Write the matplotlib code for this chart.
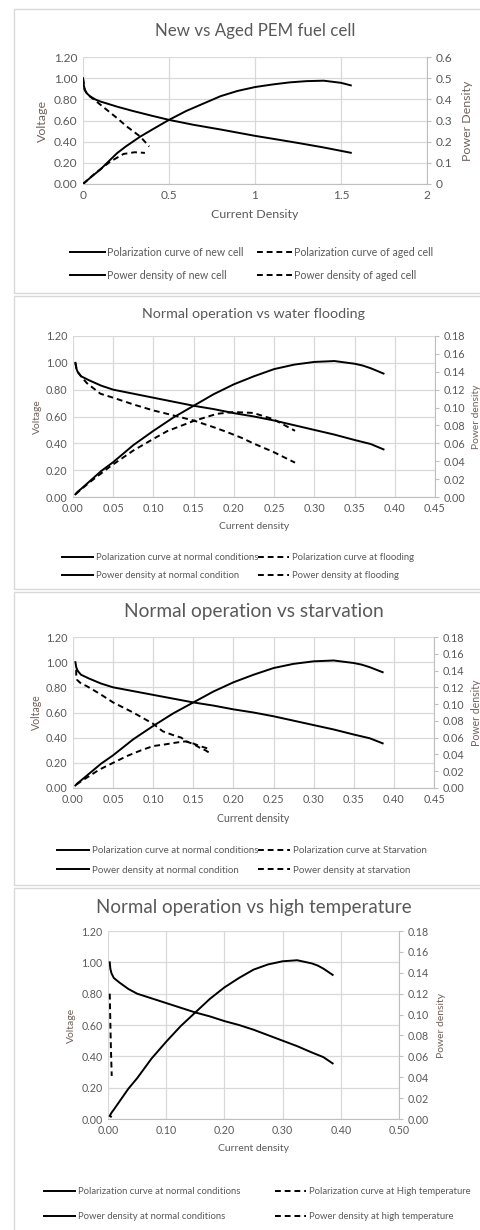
import matplotlib
matplotlib.use('Agg')
import matplotlib.pyplot as plt
from matplotlib.patches import Rectangle

plt.rcParams['font.family'] = ['Lato', 'DejaVu Sans']

# ---- panel 1 : new vs aged cell ----
new_pol_i = [0.0, 0.005, 0.01, 0.02, 0.04, 0.07, 0.10, 0.15, 0.20, 0.29, 0.40, 0.50, 0.64, 0.80, 1.00, 1.15, 1.26, 1.40, 1.557]
new_pol_v = [1.00, 0.93, 0.89, 0.86, 0.83, 0.80, 0.78, 0.755, 0.73, 0.69, 0.645, 0.606, 0.56, 0.515, 0.455, 0.415, 0.385, 0.345, 0.295]
new_pow_i = [0.0, 0.05, 0.10, 0.197, 0.25, 0.333, 0.40, 0.50, 0.60, 0.70, 0.80, 0.90, 1.00, 1.10, 1.20, 1.30, 1.40, 1.50, 1.557]
new_pow_p = [0.0, 0.035, 0.068, 0.145, 0.178, 0.224, 0.256, 0.303, 0.345, 0.38, 0.415, 0.44, 0.458, 0.47, 0.48, 0.486, 0.488, 0.478, 0.466]
aged_pol_i = [0.0, 0.01, 0.03, 0.07, 0.139, 0.20, 0.255, 0.333, 0.385]
aged_pol_v = [1.00, 0.89, 0.84, 0.79, 0.70, 0.62, 0.543, 0.448, 0.354]
aged_pow_i = [0.0, 0.07, 0.159, 0.236, 0.30, 0.36]
aged_pow_p = [0.0, 0.05, 0.106, 0.142, 0.150, 0.147]

# ---- normal operation (panels 2-4) ----
norm_i = [0.003, 0.004, 0.006, 0.010, 0.020, 0.035, 0.050, 0.075, 0.100, 0.125, 0.150, 0.175,
          0.200, 0.225, 0.250, 0.275, 0.300, 0.325, 0.350, 0.360, 0.370, 0.386]
norm_v = [1.00, 0.96, 0.93, 0.90, 0.87, 0.83, 0.80, 0.77, 0.74, 0.71, 0.68, 0.655,
          0.625, 0.60, 0.57, 0.535, 0.50, 0.465, 0.425, 0.41, 0.395, 0.355]
norm_p = [0.003, 0.004, 0.006, 0.009, 0.017, 0.029, 0.039, 0.058, 0.074, 0.089, 0.102, 0.115,
          0.126, 0.135, 0.143, 0.148, 0.151, 0.152, 0.149, 0.147, 0.144, 0.138]

# ---- flooding ----
flood_pol_i = [0.003, 0.005, 0.010, 0.017, 0.034, 0.050, 0.075, 0.100, 0.117, 0.150, 0.175, 0.191, 0.210, 0.224, 0.249, 0.276]
flood_pol_v = [1.00, 0.94, 0.90, 0.85, 0.77, 0.74, 0.69, 0.645, 0.62, 0.57, 0.52, 0.485, 0.44, 0.40, 0.336, 0.256]
flood_pow_i = [0.003, 0.020, 0.046, 0.075, 0.100, 0.117, 0.150, 0.179, 0.200, 0.224, 0.249, 0.276]
flood_pow_p = [0.003, 0.016, 0.034, 0.052, 0.065, 0.0736, 0.085, 0.093, 0.095, 0.094, 0.087, 0.074]

# ---- starvation ----
starv_pol_i = [0.004, 0.004, 0.005, 0.010, 0.017, 0.033, 0.050, 0.075, 0.100, 0.112, 0.125, 0.135, 0.141, 0.150, 0.158, 0.165, 0.170]
starv_pol_v = [0.94, 0.90, 0.86, 0.83, 0.81, 0.75, 0.68, 0.60, 0.51, 0.45, 0.42, 0.40, 0.37, 0.35, 0.32, 0.30, 0.28]
starv_pow_i = [0.004, 0.015, 0.033, 0.050, 0.067, 0.085, 0.100, 0.115, 0.125, 0.135, 0.141, 0.150, 0.158, 0.165, 0.170]
starv_pow_p = [0.004, 0.011, 0.022, 0.030, 0.038, 0.045, 0.050, 0.052, 0.0536, 0.055, 0.0556, 0.053, 0.050, 0.048, 0.046]

# ---- high temperature ----
hot_pol_i = [0.003, 0.004, 0.005, 0.0064]
hot_pol_v = [0.80, 0.62, 0.45, 0.275]
hot_pow_i = [0.003, 0.004, 0.005, 0.0064]
hot_pow_p = [0.0024, 0.0025, 0.0023, 0.0018]

W, H = 481, 1230
fig = plt.figure(figsize=(W / 100, H / 100), dpi=100)
fig.patch.set_facecolor('white')

GRID = '#d9d9d9'
TXT = '#595959'
LAB = '#6f625c'
DASH = (0, (3, 2))

# panel frames
for top, bot in [(9, 293), (296, 589), (592, 885), (888, 1240)]:
    fig.patches.append(Rectangle((14 / W, 1 - bot / H), (495 - 14) / W, (bot - top) / H,
                                 transform=fig.transFigure, fill=False, ec=GRID, lw=1))


def px_axes(x0, y0, x1, y1):
    return fig.add_axes([x0 / W, 1 - y1 / H, (x1 - x0) / W, (y1 - y0) / H])


def panel(box, title, title_y, title_fs, xmax, xstep, xfmt, pmax, pstep, pfmt, tick_fs,
          xlabel, plabel, lab_fs, lines, leg_x, leg_y, leg_fs, leg_gap, vpad, ppad):
    ax = px_axes(*box)
    ax2 = ax.twinx()
    ax.set_zorder(ax2.get_zorder() + 1)
    ax.patch.set_visible(False)
    ax.set_xlim(0, xmax)
    ax.set_ylim(0, 1.2)
    ax2.set_ylim(0, pmax)
    xt = [k * xstep for k in range(int(round(xmax / xstep)) + 1)]
    ax.set_xticks(xt)
    ax.set_xticklabels([xfmt.format(v) for v in xt])
    yt = [k * 0.2 for k in range(7)]
    ax.set_yticks(yt)
    ax.set_yticklabels(['{:.2f}'.format(v) for v in yt])
    pt = [k * pstep for k in range(int(round(pmax / pstep)) + 1)]
    ax2.set_yticks(pt)
    ax2.set_yticklabels([pfmt(v) for v in pt])
    ax.grid(True, color=GRID, lw=0.9)
    ax.set_axisbelow(True)
    for s in ['left', 'top', 'right']:
        ax.spines[s].set_visible(False)
    ax.spines['bottom'].set_color('#bfbfbf')
    for s in ['left', 'top', 'bottom']:
        ax2.spines[s].set_visible(False)
    ax2.spines['right'].set_color('#bfbfbf')
    ax.tick_params(length=0, labelsize=tick_fs, labelcolor=TXT, pad=4)
    ax2.tick_params(axis='y', length=3, color='#bfbfbf', labelsize=tick_fs, labelcolor=TXT, pad=3)
    ax.set_xlabel(xlabel, fontsize=lab_fs, color=TXT, labelpad=6)
    ax.set_ylabel('Voltage', fontsize=lab_fs, color=LAB, labelpad=vpad)
    ax2.set_ylabel(plabel, fontsize=lab_fs, color=LAB, labelpad=ppad)
    fig.text((box[0] + box[2]) / 2 / W, 1 - title_y / H, title, ha='center', va='center',
             fontsize=title_fs, color=TXT)

    (pi, pv, pl), (qi, qv, ql), (fi, fv, fl), (gi, gp, gl) = lines
    h1, = ax.plot(pi, pv, color='black', lw=1.4, zorder=3)
    h3, = ax.plot(fi, fv, color='black', lw=1.4, ls=DASH, zorder=3)
    h2, = ax2.plot(qi, qv, color='black', lw=1.4)
    h4, = ax2.plot(gi, gp, color='black', lw=1.4, ls=DASH)
    # power curves belong to the secondary axis; draw them above the grid
    for h in (h2, h4):
        h.remove()
        ax.add_line(h)
        h.set_transform(ax2.transData)
        h.set_zorder(3)

    kw = dict(loc='upper left', frameon=False, fontsize=leg_fs, borderpad=0, borderaxespad=0,
              handlelength=3.3, handletextpad=0.25, labelspacing=leg_gap,
              labelcolor=TXT, bbox_transform=fig.transFigure)
    fig.legend([h1, h2], [pl, ql], bbox_to_anchor=(leg_x[0] / W, 1 - leg_y / H), **kw)
    fig.legend([h3, h4], [fl, gl], bbox_to_anchor=(leg_x[1] / W, 1 - leg_y / H), **kw)


panel((83, 57, 427, 184), 'New vs Aged PEM fuel cell', 31, 12.2, 2.0, 0.5,
      '{:g}', 0.6, 0.1, lambda v: '{:g}'.format(round(v, 1)), 8.6,
      'Current Density', 'Power Density', 8.9,
      [(new_pol_i, new_pol_v, 'Polarization curve of new cell'),
       (new_pow_i, new_pow_p, 'Power density of new cell'),
       (aged_pol_i, aged_pol_v, 'Polarization curve of aged cell'),
       (aged_pow_i, aged_pow_p, 'Power density of aged cell')],
      (70, 257), 247, 7.6, 1.15, 4, 7)

panel((73, 336, 435, 497), 'Normal operation vs water flooding', 314, 10.3, 0.45, 0.05,
      '{:.2f}', 0.18, 0.02, lambda v: '{:.2f}'.format(v), 7.8,
      'Current density', 'Power density', 7.4,
      [(norm_i, norm_v, 'Polarization curve at normal conditions'),
       (norm_i, norm_p, 'Power density at normal condition'),
       (flood_pol_i, flood_pol_v, 'Polarization curve at flooding'),
       (flood_pow_i, flood_pow_p, 'Power density at flooding')],
      (62, 258), 553, 6.8, 1.0, 3, 5)

panel((73, 637, 434, 788), 'Normal operation vs starvation', 612, 13.8, 0.45, 0.05,
      '{:.2f}', 0.18, 0.02, lambda v: '{:.2f}'.format(v), 7.8,
      'Current density', 'Power density', 7.6,
      [(norm_i, norm_v, 'Polarization curve at normal conditions'),
       (norm_i, norm_p, 'Power density at normal condition'),
       (starv_pol_i, starv_pol_v, 'Polarization curve at Starvation'),
       (starv_pow_i, starv_pow_p, 'Power density at starvation')],
      (57, 258), 846, 7.0, 1.1, 3, 5)

panel((108, 931, 399, 1119), 'Normal operation vs high temperature', 907, 13.5, 0.5, 0.1,
      '{:.2f}', 0.18, 0.02, lambda v: '{:.2f}'.format(v), 7.7,
      'Current density', 'Power density', 7.5,
      [(norm_i, norm_v, 'Polarization curve at normal conditions'),
       (norm_i, norm_p, 'Power density at normal conditions'),
       (hot_pol_i, hot_pol_v, 'Polarization curve at High temperature'),
       (hot_pow_i, hot_pow_p, 'Power density at high temperature')],
      (44, 275), 1187, 6.8, 1.7, 4, 6)

fig.savefig('out.png', dpi=100, facecolor='white')
